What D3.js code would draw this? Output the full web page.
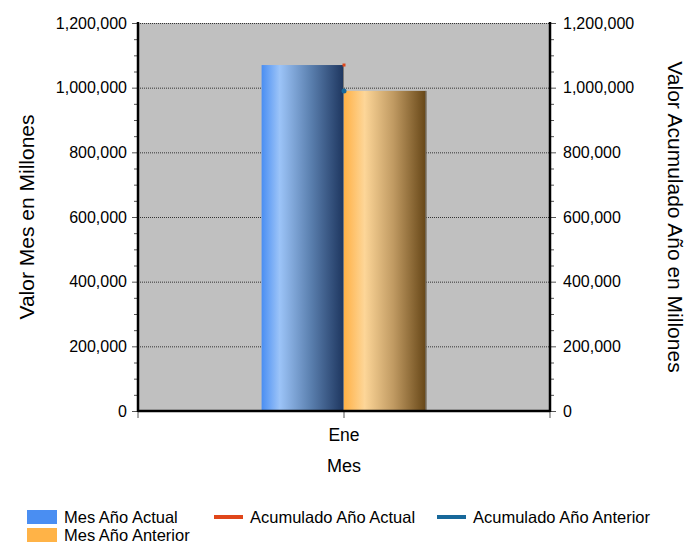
<!DOCTYPE html>
<html>
<head>
<meta charset="utf-8">
<script src="https://cdn.jsdelivr.net/npm/d3@7"></script>
<style>
  body { margin: 0; background: #fff; }
  text { font-family: "Liberation Sans", Arial, sans-serif; fill: #000; }
  .tick-label { font-size: 16px; }
  .title { font-size: 21px; }
  .legend { font-size: 16.5px; }
</style>
</head>
<body>
<svg id="chart" width="688" height="543"></svg>
<script>

// Data
var months = ['Ene'];
var mesActual = [1070000];
var mesAnterior = [990000];
var acumActual = [1070000];
var acumAnterior = [990000];
var yTicks = [0, 200000, 400000, 600000, 800000, 1000000, 1200000];

var svg = d3.select('#chart');

// Plot area
var plot = {left: 138, right: 550, top: 23, bottom: 411};

// Scales
var xScale = d3.scaleBand()
    .domain(months)
    .range([plot.left, plot.right])
    .paddingInner(0)
    .paddingOuter(0.75);

var xSub = d3.scaleBand()
    .domain(['actual', 'anterior'])
    .range([0, xScale.bandwidth()]);

var yScale = d3.scaleLinear()
    .domain([0, 1200000])
    .range([plot.bottom, plot.top]);

var yScale2 = d3.scaleLinear()
    .domain([0, 1200000])
    .range([plot.bottom, plot.top]);

var fmt = d3.format(',');

// Gradients for the bars
var defs = svg.append('defs');

function addGradient(id, stops) {
    var g = defs.append('linearGradient')
        .attr('id', id)
        .attr('x1', '0%').attr('x2', '100%')
        .attr('y1', '0%').attr('y2', '0%');
    stops.forEach(function(s) {
        g.append('stop').attr('offset', s[0]).attr('stop-color', s[1]);
    });
}

addGradient('gradBlue', [['0%', '#4a8ef2'], ['22%', '#9cc4f8'], ['60%', '#5a7fae'], ['100%', '#1d355e']]);
addGradient('gradOrange', [['0%', '#ffb146'], ['25%', '#fdd698'], ['60%', '#c09a62'], ['100%', '#654516']]);

// Background
svg.append('rect')
    .attr('x', plot.left)
    .attr('y', plot.top)
    .attr('width', plot.right - plot.left)
    .attr('height', plot.bottom - plot.top)
    .attr('fill', '#c0c0c0');

// Grid lines
svg.append('g')
    .selectAll('line')
    .data(yTicks.filter(function(d) { return d > 0; }))
    .enter()
    .append('line')
    .attr('x1', plot.left)
    .attr('x2', plot.right)
    .attr('y1', function(d) { return yScale(d) + 0.5; })
    .attr('y2', function(d) { return yScale(d) + 0.5; })
    .attr('stroke', '#333')
    .attr('stroke-width', 1)
    .attr('stroke-dasharray', '1,1');

// Bars
var groups = svg.append('g')
    .selectAll('g')
    .data(months)
    .enter()
    .append('g')
    .attr('transform', function(d) { return 'translate(' + xScale(d) + ',0)'; });

groups.append('rect')
    .attr('x', xSub('actual'))
    .attr('width', xSub.bandwidth())
    .attr('y', function(d, i) { return yScale(mesActual[i]); })
    .attr('height', function(d, i) { return plot.bottom - yScale(mesActual[i]); })
    .attr('fill', 'url(#gradBlue)');

groups.append('rect')
    .attr('x', xSub('anterior'))
    .attr('width', xSub.bandwidth())
    .attr('y', function(d, i) { return yScale(mesAnterior[i]); })
    .attr('height', function(d, i) { return plot.bottom - yScale(mesAnterior[i]); })
    .attr('fill', 'url(#gradOrange)');

// Thin grey edge on bar right sides
groups.append('line')
    .attr('x1', xSub('actual') + xSub.bandwidth() - 0.5)
    .attr('x2', xSub('actual') + xSub.bandwidth() - 0.5)
    .attr('y1', function(d, i) { return yScale(mesActual[i]); })
    .attr('y2', plot.bottom)
    .attr('stroke', '#7a7a7a')
    .attr('stroke-width', 1);

groups.append('line')
    .attr('x1', xSub('anterior') + xSub.bandwidth() - 0.5)
    .attr('x2', xSub('anterior') + xSub.bandwidth() - 0.5)
    .attr('y1', function(d, i) { return yScale(mesAnterior[i]); })
    .attr('y2', plot.bottom)
    .attr('stroke', '#7a7a7a')
    .attr('stroke-width', 1);

// Cumulative lines (single point => markers only)
svg.append('g')
    .selectAll('rect')
    .data(acumActual)
    .enter()
    .append('rect')
    .attr('x', function(d, i) { return xScale(months[i]) + xScale.bandwidth() / 2 - 1.5; })
    .attr('y', function(d) { return yScale2(d) - 1.5; })
    .attr('width', 3)
    .attr('height', 3)
    .attr('fill', '#e0461a');

svg.append('g')
    .selectAll('circle')
    .data(acumAnterior)
    .enter()
    .append('circle')
    .attr('cx', function(d, i) { return xScale(months[i]) + xScale.bandwidth() / 2; })
    .attr('cy', function(d) { return yScale2(d); })
    .attr('r', 2.5)
    .attr('fill', '#17689a');

// Left axis
var leftAxis = d3.axisLeft(yScale)
    .tickValues(yTicks)
    .tickFormat(fmt)
    .tickSize(6)
    .tickPadding(5);

var gLeft = svg.append('g')
    .attr('transform', 'translate(' + plot.left + ',0)')
    .call(leftAxis);

// Right axis
var rightAxis = d3.axisRight(yScale2)
    .tickValues(yTicks)
    .tickFormat(fmt)
    .tickSize(6)
    .tickPadding(7);

var gRight = svg.append('g')
    .attr('transform', 'translate(' + plot.right + ',0)')
    .call(rightAxis);

[gLeft, gRight].forEach(function(g) {
    g.select('.domain').remove();
    g.selectAll('.tick line').attr('stroke', '#555');
    g.selectAll('.tick text')
        .attr('class', 'tick-label')
        .attr('fill', '#000')
        .style('font-family', '"Liberation Sans", Arial, sans-serif')
        .style('font-size', '16px');
});

// Minor ticks every 50,000
var minor = d3.range(50000, 1200000, 50000).filter(function(d) { return d % 200000 !== 0; });

svg.append('g')
    .selectAll('line')
    .data(minor)
    .enter()
    .append('line')
    .attr('x1', plot.left - 4)
    .attr('x2', plot.left)
    .attr('y1', function(d) { return yScale(d) + 0.5; })
    .attr('y2', function(d) { return yScale(d) + 0.5; })
    .attr('stroke', '#555');

svg.append('g')
    .selectAll('line')
    .data(minor)
    .enter()
    .append('line')
    .attr('x1', plot.right)
    .attr('x2', plot.right + 4)
    .attr('y1', function(d) { return yScale2(d) + 0.5; })
    .attr('y2', function(d) { return yScale2(d) + 0.5; })
    .attr('stroke', '#555');

// Bottom axis: ticks at plot edges and category centre
var xTickPos = [plot.left, xScale(months[0]) + xScale.bandwidth() / 2, plot.right];

svg.append('g')
    .selectAll('line')
    .data(xTickPos)
    .enter()
    .append('line')
    .attr('x1', function(d) { return d; })
    .attr('x2', function(d) { return d; })
    .attr('y1', plot.bottom)
    .attr('y2', plot.bottom + 7)
    .attr('stroke', '#555');

svg.append('g')
    .selectAll('text')
    .data(months)
    .enter()
    .append('text')
    .attr('x', function(d) { return xScale(d) + xScale.bandwidth() / 2; })
    .attr('y', 441)
    .attr('text-anchor', 'middle')
    .style('font-size', '17.5px')
    .text(function(d) { return d; });

// Axis frame lines (thick)
svg.append('line')
    .attr('x1', plot.left).attr('x2', plot.left)
    .attr('y1', plot.top - 1).attr('y2', plot.bottom + 1)
    .attr('stroke', '#000').attr('stroke-width', 2.5);

svg.append('line')
    .attr('x1', plot.right).attr('x2', plot.right)
    .attr('y1', plot.top - 1).attr('y2', plot.bottom + 1)
    .attr('stroke', '#000').attr('stroke-width', 2.5);

svg.append('line')
    .attr('x1', plot.left).attr('x2', plot.right)
    .attr('y1', plot.bottom).attr('y2', plot.bottom)
    .attr('stroke', '#000').attr('stroke-width', 2.5);

// Axis titles
svg.append('text')
    .attr('class', 'title')
    .attr('transform', 'translate(27,' + ((plot.top + plot.bottom) / 2) + ')rotate(-90)')
    .attr('text-anchor', 'middle')
    .attr('dy', '0.35em')
    .text('Valor Mes en Millones');

svg.append('text')
    .attr('class', 'title')
    .attr('transform', 'translate(675,' + ((plot.top + plot.bottom) / 2) + ')rotate(90)')
    .attr('text-anchor', 'middle')
    .attr('dy', '0.35em')
    .text('Valor Acumulado Año en Millones');

svg.append('text')
    .attr('x', (plot.left + plot.right) / 2)
    .attr('y', 472)
    .attr('text-anchor', 'middle')
    .style('font-size', '18px')
    .text('Mes');

// Legend
var legendItems = [
    {label: 'Mes Año Actual', type: 'box', color: '#4a8ef2', x: 27, y: 517},
    {label: 'Acumulado Año Actual', type: 'line', color: '#e0461a', x: 214, y: 517},
    {label: 'Acumulado Año Anterior', type: 'line', color: '#17689a', x: 437, y: 517},
    {label: 'Mes Año Anterior', type: 'box', color: '#ffb347', x: 27, y: 535}
];

var legend = svg.append('g')
    .selectAll('g')
    .data(legendItems)
    .enter()
    .append('g')
    .attr('transform', function(d) { return 'translate(' + d.x + ',' + d.y + ')'; });

legend.filter(function(d) { return d.type === 'box'; })
    .append('rect')
    .attr('x', 0)
    .attr('y', -7)
    .attr('width', 30)
    .attr('height', 14)
    .attr('fill', function(d) { return d.color; });

legend.filter(function(d) { return d.type === 'line'; })
    .append('rect')
    .attr('x', 0)
    .attr('y', -2)
    .attr('width', 29)
    .attr('height', 4)
    .attr('fill', function(d) { return d.color; });

legend.append('text')
    .attr('class', 'legend')
    .attr('x', function(d) { return d.type === 'box' ? 37 : 36; })
    .attr('y', 0)
    .attr('dy', '0.35em')
    .text(function(d) { return d.label; });

</script>
</body>
</html>
